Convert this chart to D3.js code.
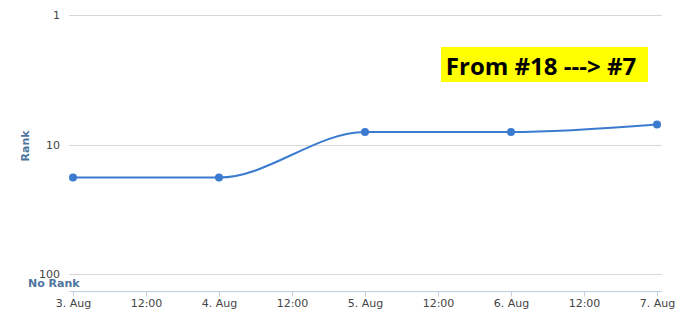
<!DOCTYPE html>
<html>
<head>
<meta charset="utf-8">
<script src="https://cdn.jsdelivr.net/npm/d3@7"></script>
<style>
  body { margin: 0; background: #fff; }
  svg { display: block; }
</style>
</head>
<body>
<div id="chart"></div>
<script>
// Rank history
var dates = ["2014-08-03", "2014-08-04", "2014-08-05", "2014-08-06", "2014-08-07"];
var ranks = [18, 18, 8, 8, 7];
var rankTicks = [1, 10, 100];
var note = "From #18 ---> #7";

var width = 694, height = 315;
var parse = d3.timeParse("%Y-%m-%d");
var data = dates.map(function(d, i) { return { date: parse(d), rank: ranks[i] }; });

var svg = d3.select("#chart").append("svg")
    .attr("width", width)
    .attr("height", height);

var x = d3.scaleTime()
    .domain(d3.extent(data, function(d) { return d.date; }))
    .range([73, 657]);

// log axis, best rank on top
var y = d3.scaleLog()
    .domain([1, 100])
    .range([15, 274]);

var plotLeft = 69, plotRight = 662, plotBottom = 291;

// gridlines
svg.append("g")
    .selectAll("line")
    .data(rankTicks)
    .enter().append("line")
    .attr("x1", plotLeft)
    .attr("x2", plotRight)
    .attr("y1", function(d) { return Math.round(y(d)) + 0.5; })
    .attr("y2", function(d) { return Math.round(y(d)) + 0.5; })
    .attr("stroke", "#d8d8d8")
    .attr("stroke-width", 1);

// y labels
svg.append("g")
    .selectAll("text")
    .data(rankTicks)
    .enter().append("text")
    .attr("x", 60)
    .attr("y", function(d) { return y(d) + 4; })
    .attr("text-anchor", "end")
    .style("font-family", "DejaVu Sans, sans-serif")
    .style("font-size", "11px")
    .style("fill", "#444")
    .text(function(d) { return d; });

svg.append("text")
    .attr("transform", "translate(29,146) rotate(-90)")
    .attr("text-anchor", "middle")
    .style("font-family", "DejaVu Sans, sans-serif")
    .style("font-size", "11px")
    .style("font-weight", "bold")
    .style("fill", "#4d759e")
    .text("Rank");

svg.append("text")
    .attr("x", 28)
    .attr("y", 287)
    .style("font-family", "DejaVu Sans, sans-serif")
    .style("font-size", "11px")
    .style("font-weight", "bold")
    .style("fill", "#4d759e")
    .text("No Rank");

// x axis
var xAxis = d3.axisBottom(x)
    .ticks(d3.timeHour.every(12))
    .tickSize(5)
    .tickPadding(3)
    .tickFormat(function(d) {
        return d.getHours() === 0 ? d3.timeFormat("%-d. %b")(d) : d3.timeFormat("%H:%M")(d);
    });

var gx = svg.append("g")
    .attr("transform", "translate(0," + (plotBottom + 0.5) + ")")
    .call(xAxis);

gx.select(".domain").remove();
gx.append("line")
    .attr("x1", plotLeft)
    .attr("x2", plotRight)
    .attr("stroke", "#c0d0e0");
gx.selectAll(".tick line").attr("stroke", "#c0d0e0");
gx.selectAll(".tick text")
    .style("font-family", "DejaVu Sans, sans-serif")
    .style("font-size", "11px")
    .style("fill", "#444");

// line
var line = d3.line()
    .x(function(d) { return x(d.date); })
    .y(function(d) { return y(d.rank); })
    .curve(d3.curveMonotoneX);

svg.append("path")
    .datum(data)
    .attr("d", line)
    .attr("fill", "none")
    .attr("stroke", "#3a7bd0")
    .attr("stroke-width", 2);

svg.append("g")
    .selectAll("circle")
    .data(data)
    .enter().append("circle")
    .attr("cx", function(d) { return x(d.date); })
    .attr("cy", function(d) { return y(d.rank); })
    .attr("r", 4)
    .attr("fill", "#3a7bd0");

// annotation
svg.append("rect")
    .attr("x", 441)
    .attr("y", 47)
    .attr("width", 207)
    .attr("height", 35)
    .attr("fill", "#ffff00");

svg.append("text")
    .attr("x", 541)
    .attr("y", 75)
    .attr("text-anchor", "middle")
    .style("font-family", "Open Sans, sans-serif")
    .style("font-size", "24px")
    .style("font-weight", "bold")
    .style("fill", "#000")
    .text(note);
</script>
</body>
</html>
